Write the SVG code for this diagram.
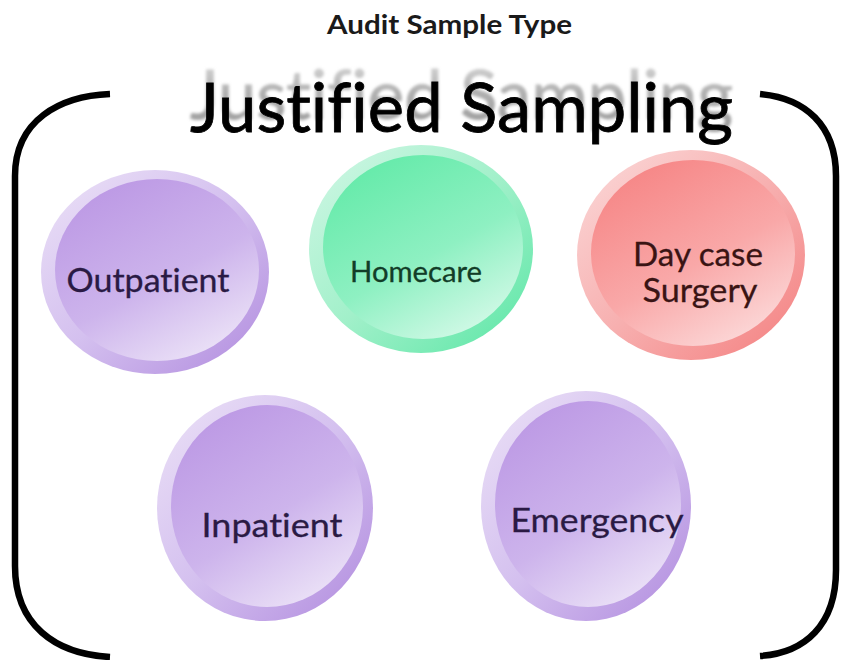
<svg xmlns="http://www.w3.org/2000/svg" width="846" height="660" viewBox="0 0 846 660">
  <style>
    text { font-variant-ligatures: none; font-feature-settings: "liga" 0; }
    .heading { font-family: Lato, "Open Sans", "Liberation Sans", sans-serif; font-weight: 700; font-size: 27px; fill: #1a1a1a; }
    .banner { font-family: Lato, "Open Sans", "Liberation Sans", sans-serif; font-size: 68px; }
    .ink { fill: #000; stroke: #000; stroke-width: 0.8; }
    .label { font-family: Lato, "Open Sans", "Liberation Sans", sans-serif; font-size: 33px; text-anchor: middle; stroke-width: 0.3; }
    .purple .label { fill: #2a1a44; stroke: #2a1a44; }
    .green .label { fill: #123d28; stroke: #123d28; }
    .red .label { fill: #3a1414; stroke: #3a1414; }
    .bracket { fill: none; stroke: #000; stroke-width: 6.5; stroke-linecap: butt; }
  </style>
  <defs>
    <linearGradient id="ringPurple" x1="0" y1="0" x2="1" y2="1">
      <stop offset="0" stop-color="#ece2f7"/>
      <stop offset="0.5" stop-color="#d4c0ef"/>
      <stop offset="1" stop-color="#b08ade"/>
    </linearGradient>
    <linearGradient id="corePurple" x1="0.2" y1="0" x2="0.8" y2="1">
      <stop offset="0" stop-color="#bb97e4"/>
      <stop offset="0.55" stop-color="#cdb4ec"/>
      <stop offset="1" stop-color="#eee6f8"/>
    </linearGradient>
    <linearGradient id="ringGreen" x1="0" y1="0" x2="1" y2="1">
      <stop offset="0" stop-color="#d2f7e6"/>
      <stop offset="0.5" stop-color="#a2f0ca"/>
      <stop offset="1" stop-color="#58e6a4"/>
    </linearGradient>
    <linearGradient id="coreGreen" x1="0.2" y1="0" x2="0.8" y2="1">
      <stop offset="0" stop-color="#62eaa8"/>
      <stop offset="0.55" stop-color="#8ef0c2"/>
      <stop offset="1" stop-color="#d8faea"/>
    </linearGradient>
    <linearGradient id="ringRed" x1="0" y1="0" x2="1" y2="1">
      <stop offset="0" stop-color="#fbdada"/>
      <stop offset="0.5" stop-color="#f7b0b0"/>
      <stop offset="1" stop-color="#f47e7e"/>
    </linearGradient>
    <linearGradient id="coreRed" x1="0.2" y1="0" x2="0.8" y2="1">
      <stop offset="0" stop-color="#f68484"/>
      <stop offset="0.55" stop-color="#f9a8a8"/>
      <stop offset="1" stop-color="#fcdcdc"/>
    </linearGradient>
    <linearGradient id="echoFade" x1="0" y1="0" x2="0" y2="1">
      <stop offset="0" stop-color="#e2e2e2"/>
      <stop offset="0.5" stop-color="#b0b0b0"/>
      <stop offset="1" stop-color="#9a9a9a"/>
    </linearGradient>
    <filter id="soft" x="-5%" y="-20%" width="110%" height="140%">
      <feGaussianBlur stdDeviation="1.5"/>
    </filter>
  </defs>

  <rect width="846" height="660" fill="#ffffff"/>

  <!-- heading -->
  <text class="heading" x="327" y="34" textLength="245" lengthAdjust="spacingAndGlyphs">Audit Sample Type</text>

  <!-- banner title with its soft grey echo behind -->
  <g id="banner">
    <text class="banner" x="190" y="119" fill="url(#echoFade)" stroke="url(#echoFade)" stroke-width="0.8" filter="url(#soft)" textLength="543" lengthAdjust="spacingAndGlyphs">Justified Sampling</text>
    <text class="banner ink" x="190" y="132" textLength="543" lengthAdjust="spacingAndGlyphs">Justified Sampling</text>
  </g>

  <!-- enclosing brackets -->
  <g id="connectors">
    <path class="bracket" d="M110,94 C60,96 15,120 15,176 L15,566 C15,625 55,654 110,657"/>
    <path class="bracket" d="M760,94 C805,98 836,125 836,176 L836,570 C836,625 805,653 760,656"/>
  </g>

  <!-- category bubbles -->
  <g id="outpatient" class="purple">
    <ellipse cx="155" cy="272" rx="114" ry="102" fill="url(#ringPurple)"/>
    <ellipse cx="157" cy="270" rx="102" ry="91" fill="url(#corePurple)"/>
    <text class="label" x="148" y="292" textLength="163" lengthAdjust="spacingAndGlyphs">Outpatient</text>
  </g>

  <g id="homecare" class="green">
    <ellipse cx="421" cy="249" rx="112" ry="104" fill="url(#ringGreen)"/>
    <ellipse cx="423" cy="247" rx="100" ry="92" fill="url(#coreGreen)"/>
    <text class="label" x="416" y="282" style="font-size:28px" textLength="132" lengthAdjust="spacingAndGlyphs">Homecare</text>
  </g>

  <g id="daycase" class="red">
    <ellipse cx="691" cy="255" rx="114" ry="105" fill="url(#ringRed)"/>
    <ellipse cx="693" cy="253" rx="102" ry="93" fill="url(#coreRed)"/>
    <text class="label" x="698" y="266" textLength="130" lengthAdjust="spacingAndGlyphs">Day case</text>
    <text class="label" x="700" y="302" textLength="115" lengthAdjust="spacingAndGlyphs">Surgery</text>
  </g>

  <g id="inpatient" class="purple">
    <ellipse cx="265" cy="508" rx="108" ry="113" fill="url(#ringPurple)"/>
    <ellipse cx="267" cy="506" rx="96" ry="101" fill="url(#corePurple)"/>
    <text class="label" x="272" y="537" textLength="141" lengthAdjust="spacingAndGlyphs">Inpatient</text>
  </g>

  <g id="emergency" class="purple">
    <ellipse cx="586" cy="506" rx="105" ry="115" fill="url(#ringPurple)"/>
    <ellipse cx="588" cy="504" rx="93" ry="103" fill="url(#corePurple)"/>
    <text class="label" x="597" y="532" textLength="173" lengthAdjust="spacingAndGlyphs">Emergency</text>
  </g>
</svg>
